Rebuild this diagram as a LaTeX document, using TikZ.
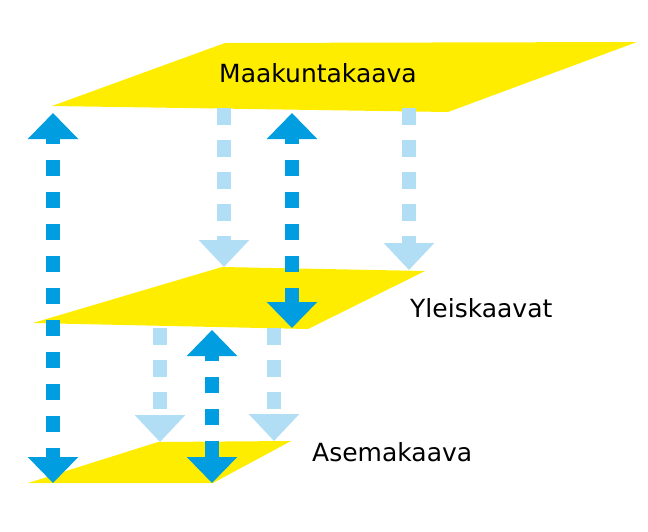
\documentclass[tikz,border=0pt]{standalone}
\usepackage{fontspec}
\setmainfont{DejaVu Sans}
\usetikzlibrary{arrows.meta}
\definecolor{plane}{RGB}{255,237,0}
\definecolor{darkarr}{RGB}{0,158,224}
\definecolor{lightarr}{RGB}{178,222,245}
\begin{document}
\begin{tikzpicture}[x=1pt,y=-1pt]
    \tikzstyle{lvl}=[fill=plane,draw=none];
    \tikzstyle{lbl}=[font=\fontsize{25}{30}\selectfont,inner sep=0pt,anchor=base west];
    \tikzstyle{both}=[line width=14pt,darkarr,dash pattern=on 16pt off 16pt,dash phase=9pt,{Triangle[width=49pt,length=26pt]}-{Triangle[width=49pt,length=26pt]}];
    \tikzstyle{down}=[line width=14pt,lightarr,dash pattern=on 17pt off 15pt,-{Triangle[width=49pt,length=27pt]}];
    \useasboundingbox (0,0) rectangle (648,531);
    %planes
    \fill[lvl] (225,43) -- (637,42) -- (448,112) -- (52,106) -- cycle;
    \fill[lvl] (222,267) -- (425,271) -- (308,329) -- (33,323) -- cycle;
    \fill[lvl] (158,442) -- (291,441) -- (213,483) -- (28,483) -- cycle;
    \node[lbl] (maak) at (219,82) {Maakuntakaava};
    \node[lbl] (yleis) at (410,317) {Yleiskaavat};
    \node[lbl] (asema) at (312,461) {Asemakaava};
    %arrow ends
    \coordinate (l1s) at (224,108); \coordinate (l1e) at (224,267);
    \coordinate (l2s) at (409,108); \coordinate (l2e) at (409,270);
    \coordinate (l3s) at (160,328); \coordinate (l3e) at (160,442);
    \coordinate (l4s) at (274,328); \coordinate (l4e) at (274,441);
    \coordinate (d1s) at (53,113); \coordinate (d1e) at (53,483);
    \coordinate (d2s) at (292,113); \coordinate (d2e) at (292,328);
    \coordinate (d3s) at (212,330); \coordinate (d3e) at (212,483);
    %light arrows
    \draw[down] (l1s) -- (l1e);
    \draw[down] (l2s) -- (l2e);
    \draw[down] (l3s) -- (l3e);
    \draw[down] (l4s) -- (l4e);
    %dark arrows
    \draw[both] (d1s) -- (d1e);
    \draw[both] (d2s) -- (d2e);
    \draw[both] (d3s) -- (d3e);
\end{tikzpicture}
\end{document}
